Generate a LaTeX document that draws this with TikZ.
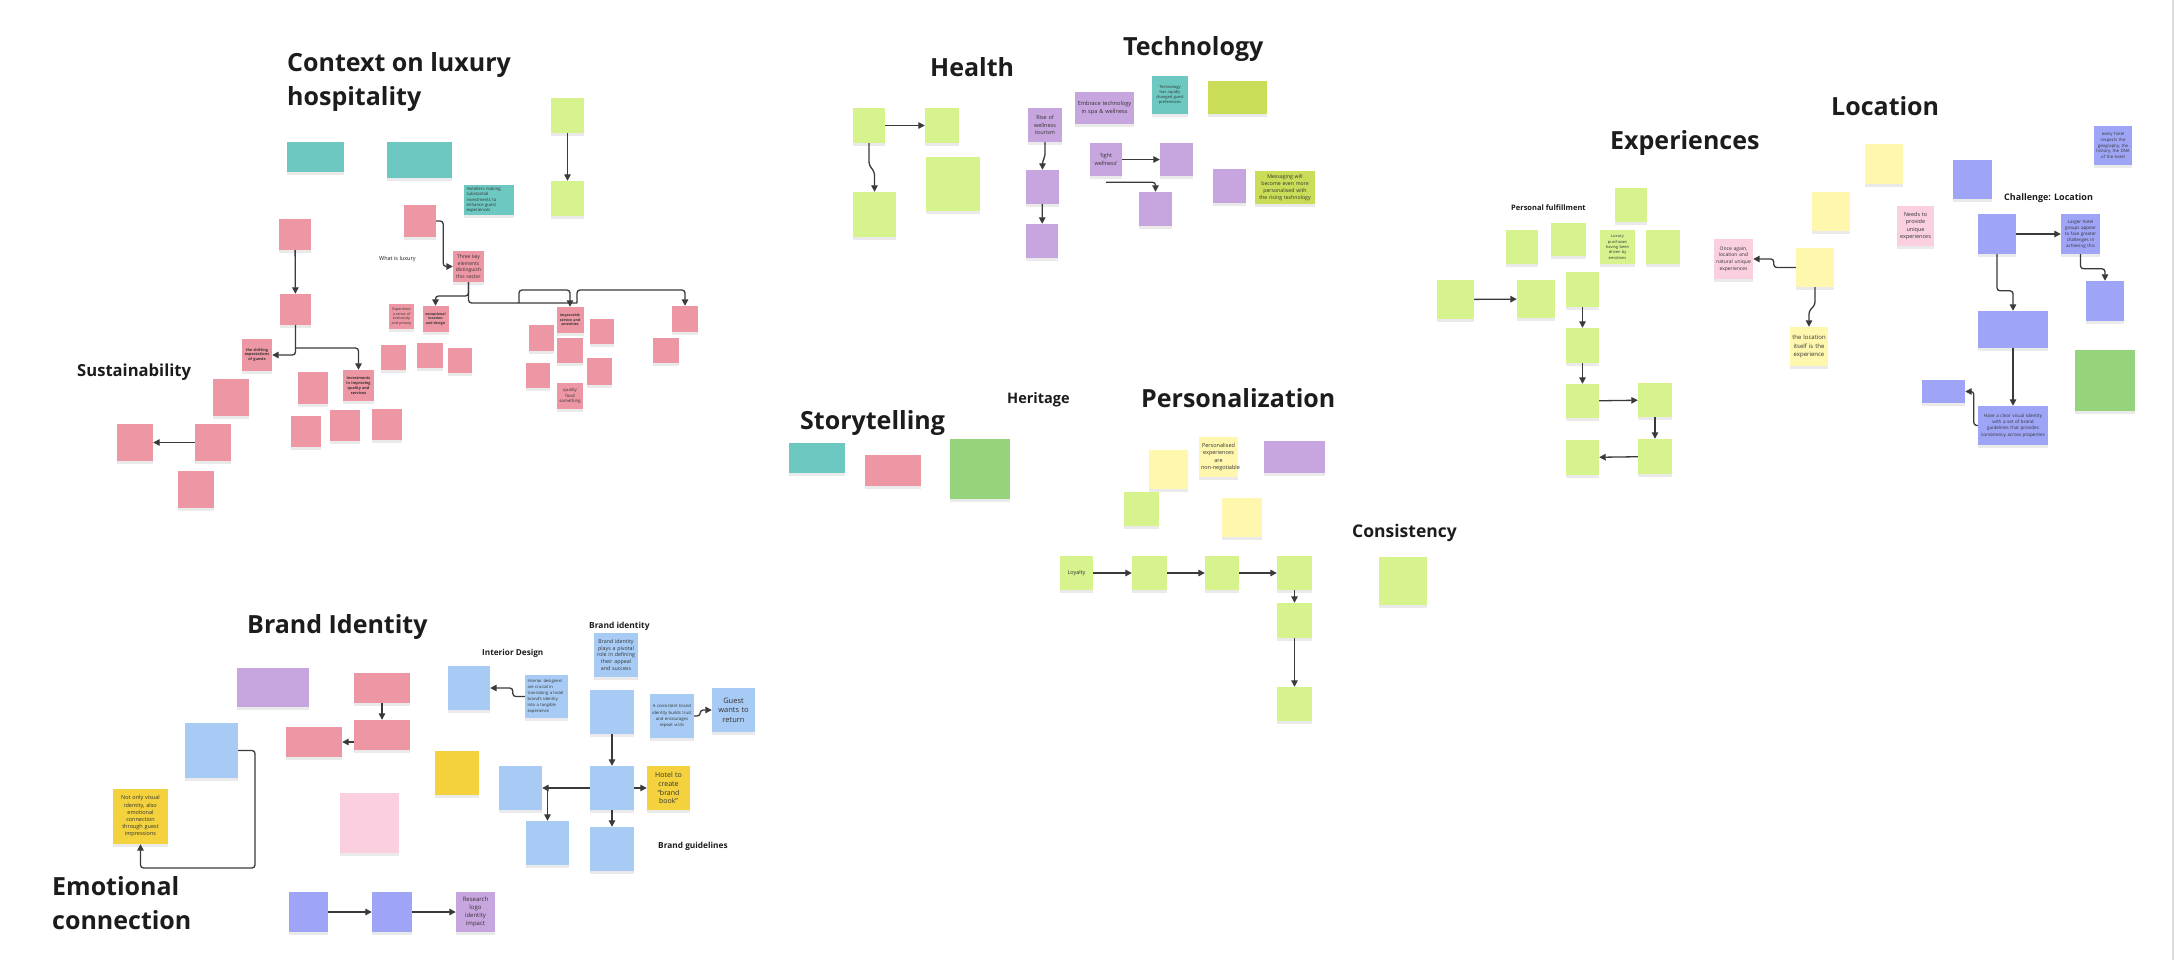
\documentclass[tikz,border=0pt]{standalone}
\usepackage{fontspec}
\setmainfont{Open Sans}
\usetikzlibrary{arrows.meta,positioning,shadows}
\definecolor{pinknote}{HTML}{EC97A3}
\definecolor{tealnote}{HTML}{6CC8C0}
\definecolor{limenote}{HTML}{D7F38E}
\definecolor{olivenote}{HTML}{CBDD58}
\definecolor{violetnote}{HTML}{C7A5DE}
\definecolor{bluenote}{HTML}{A7CBF4}
\definecolor{indigonote}{HTML}{9FA5F6}
\definecolor{creamnote}{HTML}{FFF7AE}
\definecolor{goldnote}{HTML}{F3D23E}
\definecolor{blushnote}{HTML}{FAD0E0}
\definecolor{grassnote}{HTML}{95D47A}
\definecolor{notetext}{HTML}{333333}
\definecolor{titleblack}{HTML}{1C1C1C}
\definecolor{linkgray}{HTML}{3A3A3A}
\definecolor{edgegray}{HTML}{DCDCDC}
\hyphenpenalty=10000
\exhyphenpenalty=10000

\begin{document}
\begin{tikzpicture}[x=1pt, y=-1pt,
  sticky/.style={rectangle, inner sep=2, align=center, text=notetext,
    drop shadow={opacity=0.16, shadow xshift=0.3, shadow yshift=2.8}},
  note/.style 2 args={sticky, minimum width=#1, minimum height=#2},
  fs/.style 2 args={font=\fontsize{#1}{#2}\selectfont},
  fsb/.style 2 args={font=\fontsize{#1}{#2}\selectfont\bfseries},
  heading/.style={font=\fontsize{25}{34}\selectfont\bfseries, text=titleblack,
    inner sep=0, align=left},
  subheading/.style={font=\fontsize{#1}{#1}\selectfont\bfseries, text=titleblack,
    inner sep=0, anchor=base west},
  conn/.style={draw=linkgray, line width=1.3, rounded corners=3,
    -{Triangle[length=6.5,width=6.5]}},
  link/.style={draw=linkgray, line width=1.3, rounded corners=3}
]
  \fill[white] (0,0) rectangle (2176,960);
  \useasboundingbox (0,0) rectangle (2176,960);
  \draw[edgegray, line width=2] (2173,0) -- (2173,960);

  % Context on luxury hospitality
  \node[heading, anchor=north west] (ttlContext) at (287,52) {Context on luxury\\hospitality};
  \node[note={57}{30}, fill=tealnote] (ctxTealA) at (315.5,157) {};
  \node[note={65}{36}, fill=tealnote] (ctxTealB) at (419.5,160) {};
  \node[note={50}{28}, fill=tealnote, fs={4.3}{5.3}, text width=45, align=left] (ctxInvest)
    at (489,200) {Hoteliers making substantial investments to enhance guest experiences};
  \node[note={33}{35}, fill=limenote] (ctxLimeA) at (567.5,115.5) {};
  \node[note={33}{35}, fill=limenote] (ctxLimeB) at (567.5,198.5) {};
  \node[note={32}{31}, fill=pinknote] (luxEvolA) at (295,234.5) {};
  \node[note={31}{31}, fill=pinknote] (luxEvolB) at (295.5,309.5) {};
  \node[note={30}{32}, fill=pinknote, fsb={3.8}{4.8}, text width=26] (luxShift)
    at (257,355) {the shifting expectations of guests};
  \node[note={31}{31}, fill=pinknote, fsb={3.8}{4.8}, text width=27] (luxInvest)
    at (358.5,385.5) {Investments in improving quality and services};
  \node[note={30}{32}, fill=pinknote] (luxNoteA) at (313,388) {};
  \node[note={30}{31}, fill=pinknote] (luxNoteB) at (306,431.5) {};
  \node[note={30}{31}, fill=pinknote] (luxNoteC) at (345,425.5) {};
  \node[note={30}{31}, fill=pinknote] (luxNoteD) at (387,424.5) {};
  \node[note={36}{37}, fill=pinknote] (susA) at (231,397.5) {};
  \node[note={36}{37}, fill=pinknote] (susB) at (213,442.5) {};
  \node[note={36}{37}, fill=pinknote] (susC) at (135,442.5) {};
  \node[note={36}{37}, fill=pinknote] (susD) at (196,489.5) {};
  \node[subheading=16.6] (ttlSustain) at (77,376) {Sustainability};
  \node[note={32}{32}, fill=pinknote] (luxWhat) at (420,221) {};
  \node[font=\fontsize{5.5}{5.5}\selectfont, text=titleblack, inner sep=0, anchor=base west]
    (lblLuxury) at (379,260) {What is luxury};
  \node[note={31}{31}, fill=pinknote, fs={5}{6.5}, text width=27] (luxThree)
    at (468.5,266.5) {Three key elements distinguish this sector};
  \node[note={25}{25}, fill=pinknote, fs={3.6}{4.6}, text width=21] (luxSense)
    at (401.5,316.5) {Experience a sense of exclusivity and privacy};
  \node[note={25}{26}, fill=pinknote, fsb={3.5}{4.6}, text width=22] (luxExcept)
    at (435.5,319) {exceptional location and design};
  \node[note={26}{26}, fill=pinknote, fsb={3.5}{4.6}, text width=23] (luxImpecc)
    at (570,320) {impeccable service and amenities};
  \node[note={26}{26}, fill=pinknote] (luxCommit) at (685,319) {};
  \node[note={25}{25}, fill=pinknote] (luxNoteE) at (393.5,357.5) {};
  \node[note={26}{25}, fill=pinknote] (luxNoteF) at (430,355.5) {};
  \node[note={24}{25}, fill=pinknote] (luxNoteG) at (460,360.5) {};
  \node[note={25}{26}, fill=pinknote] (luxNoteH) at (541.5,338) {};
  \node[note={24}{25}, fill=pinknote] (luxNoteI) at (538,375.5) {};
  \node[note={26}{25}, fill=pinknote] (luxNoteJ) at (570,350.5) {};
  \node[note={26}{26}, fill=pinknote, fs={4.3}{5.6}, text width=22] (luxQuality)
    at (570,396) {quality food something};
  \node[note={24}{25}, fill=pinknote] (luxNoteK) at (602,331.5) {};
  \node[note={25}{27}, fill=pinknote] (luxNoteL) at (599.5,371.5) {};
  \node[note={26}{25}, fill=pinknote] (luxNoteM) at (666,350.5) {};
  \draw[conn] (ctxLimeA) -- (ctxLimeB);
  \draw[conn] (luxEvolA) -- (luxEvolB);
  \draw[conn] (luxEvolB.south) |- (luxShift.east);
  \draw[conn] (295.5,348) -| (luxInvest.north);
  \draw[conn] (susB) -- (susC);
  \draw[conn] (luxWhat.east) -- ++(7,0) |- (luxThree.west);
  \draw[conn] (luxThree.south) -- (468.5,296) -| (luxExcept.north);
  \draw[link] (luxThree.south) |- (577,303);
  \draw[conn] (519,303) |- (570,290) -- (luxImpecc.north);
  \draw[conn] (577,303) |- (685,290) -- (luxCommit.north);

  % Health and Technology
  \node[subheading=25] (ttlHealth) at (930,77) {Health};
  \node[subheading=25] (ttlTech) at (1123,55.4) {Technology};
  \node[note={32}{35}, fill=limenote] (hltA) at (869,125.5) {};
  \node[note={34}{35}, fill=limenote] (hltB) at (942,125.5) {};
  \node[note={43}{45}, fill=limenote] (hltC) at (874.5,214.5) {};
  \node[note={54}{54}, fill=limenote] (hltD) at (953,184) {};
  \node[note={34}{34}, fill=violetnote, fs={5.5}{7.5}, text width=30] (tecRise)
    at (1045,125) {Rise of wellness tourism};
  \node[note={33}{34}, fill=violetnote] (tecRiseA) at (1042.5,187) {};
  \node[note={32}{34}, fill=violetnote] (tecRiseB) at (1042,241) {};
  \node[note={59}{32}, fill=violetnote, fs={5.6}{7.5}, text width=55] (tecSpa)
    at (1104.5,108) {Embrace technology in spa \& wellness};
  \node[note={36}{38}, fill=tealnote, fs={4}{5.2}, text width=32] (tecGuest)
    at (1170,95) {Technology has rapidly changed guest preferences};
  \node[note={59}{33}, fill=olivenote] (tecOlive) at (1237.5,97.5) {};
  \node[note={32}{33}, fill=violetnote, fs={5.5}{7.5}, text width=28] (tecLight)
    at (1106,159.5) {`light wellness'};
  \node[note={33}{33}, fill=violetnote] (tecLightA) at (1176.5,159.5) {};
  \node[note={33}{34}, fill=violetnote] (tecLightB) at (1155.5,209) {};
  \node[note={33}{34}, fill=violetnote] (tecNoteA) at (1229.5,186) {};
  \node[note={60}{33}, fill=olivenote, fs={5.2}{7}, text width=56] (tecMsg)
    at (1285,187.5) {Messaging will become even more personalised with the rising technology};
  \draw[conn] (hltA) -- (hltB);
  \draw[conn] (hltA.south) -- (869,165) -- (874.5,172) -- (hltC.north);
  \draw[conn] (tecRise.south) -- (1045,157) -- (1042.5,161) -- (tecRiseA.north);
  \draw[conn] (tecRiseA) -- (tecRiseB);
  \draw[conn] (tecLight) -- (tecLightA);
  \draw[conn] ([yshift=-6]tecLight.south) -| (tecLightB.north);

  % Storytelling, Heritage, Personalization
  \node[subheading=25] (ttlStory) at (800,429) {Storytelling};
  \node[subheading=14.5] (ttlHeritage) at (1007,403.5) {Heritage};
  \node[subheading=25] (ttlPerson) at (1141,407) {Personalization};
  \node[note={56}{30}, fill=tealnote] (styTeal) at (817,458) {};
  \node[note={56}{31}, fill=pinknote] (styPink) at (893,470.5) {};
  \node[note={60}{60}, fill=grassnote] (styGreen) at (980,469) {};
  \node[note={39}{39}, fill=creamnote] (perCreamA) at (1168.5,469.5) {};
  \node[note={39}{40}, fill=creamnote, fs={5.5}{7.2}, text width=35] (perNonNeg)
    at (1218.5,457) {Personalised experiences are non-negotiable};
  \node[note={61}{32}, fill=violetnote] (perViolet) at (1294.5,457) {};
  \node[note={35}{34}, fill=limenote] (perLime) at (1141.5,509) {};
  \node[note={40}{39}, fill=creamnote] (perCreamB) at (1242,517.5) {};

  % Loyalty and Consistency
  \node[subheading=17.5] (ttlConsist) at (1352,537.5) {Consistency};
  \node[note={33}{34}, fill=limenote, fs={5.5}{7}] (loyStart) at (1076.5,573) {Loyalty};
  \node[note={35}{34}, fill=limenote] (loyB) at (1149.5,573) {};
  \node[note={34}{34}, fill=limenote] (loyC) at (1222,573) {};
  \node[note={35}{34}, fill=limenote] (loyD) at (1294.5,573) {};
  \node[note={35}{35}, fill=limenote] (loyE) at (1294.5,620.5) {};
  \node[note={35}{34}, fill=limenote] (loyF) at (1294.5,704) {};
  \node[note={48}{48}, fill=limenote] (conNote) at (1403,581) {};
  \draw[conn] (loyStart) -- (loyB);
  \draw[conn] (loyB) -- (loyC);
  \draw[conn] (loyC) -- (loyD);
  \draw[conn] (loyD) -- (loyE);
  \draw[conn] (loyE) -- (loyF);

  % Experiences
  \node[subheading=25] (ttlExp) at (1610,150) {Experiences};
  \node[subheading=7.5] (lblFulfil) at (1511,210.5) {Personal fulfillment};
  \node[note={32}{34}, fill=limenote] (expTop) at (1631,205) {};
  \node[note={32}{34}, fill=limenote] (expA) at (1522,247) {};
  \node[note={35}{33}, fill=limenote] (expB) at (1568.5,239.5) {};
  \node[note={35}{34}, fill=limenote, fs={4}{5.4}, text width=31] (expEmotion)
    at (1617.5,247) {Luxury purchases having been driven by emotions};
  \node[note={34}{34}, fill=limenote] (expD) at (1663,247) {};
  \node[note={37}{39}, fill=limenote] (expRowA) at (1455.5,299.5) {};
  \node[note={38}{38}, fill=limenote] (expRowB) at (1536,299) {};
  \node[note={33}{35}, fill=limenote] (expColA) at (1582.5,289.5) {};
  \node[note={33}{35}, fill=limenote] (expColB) at (1582.5,345.5) {};
  \node[note={33}{34}, fill=limenote] (expColC) at (1582.5,401) {};
  \node[note={34}{34}, fill=limenote] (expColD) at (1655,400) {};
  \node[note={34}{35}, fill=limenote] (expColE) at (1655,456.5) {};
  \node[note={33}{35}, fill=limenote] (expColF) at (1582.5,457.5) {};
  \draw[conn] (expRowA) -- (expRowB);
  \draw[conn] (expColA) -- (expColB);
  \draw[conn] (expColB) -- (expColC);
  \draw[conn] (expColC) -- (expColD);
  \draw[conn] (expColD) -- (expColE);
  \draw[conn] (expColE) -- (expColF);
  \node[note={38}{40}, fill=creamnote] (expCreamA) at (1884,164) {};
  \node[note={38}{39}, fill=creamnote] (expCreamB) at (1831,211.5) {};
  \node[note={37}{40}, fill=blushnote, fs={5.5}{7.5}, text width=33] (expUnique)
    at (1915.5,226) {Needs to provide unique experiences};
  \node[note={39}{40}, fill=blushnote, fs={5}{6.6}, text width=35] (expNatural)
    at (1733.5,259) {Once again, location and natural unique experiences};
  \node[note={38}{39}, fill=creamnote] (expCreamC) at (1815,267.5) {};
  \node[note={38}{39}, fill=creamnote, fs={6}{8.4}, text width=34] (expItself)
    at (1809,346.5) {the location itself is the experience};
  \draw[conn] (expCreamC.west) -- ++(-22,0) |- (expNatural.east);
  \draw[conn] (expCreamC.south) -- (1815,305) -- (1809,311) -- (expItself.north);

  % Location
  \node[subheading=25] (ttlLoc) at (1831,116) {Location};
  \node[subheading=9] (lblChallenge) at (2004,200.5) {Challenge: Location};
  \node[note={39}{39}, fill=indigonote] (locA) at (1972.5,179.5) {};
  \node[note={38}{39}, fill=indigonote, fs={4.3}{5.8}, text width=34] (locDNA)
    at (2113,145.5) {every hotel respects the geography, the history, the DNA of the hotel};
  \node[note={38}{40}, fill=indigonote] (locChal) at (1997,234) {};
  \node[note={39}{40}, fill=indigonote, fs={4.5}{6}, text width=35] (locLarger)
    at (2080.5,234) {Larger hotel groups appear to face greater challenges in achieving this};
  \node[note={38}{40}, fill=indigonote] (locSmall) at (2105,301) {};
  \node[note={70}{37}, fill=indigonote] (locNeed) at (2013,329.5) {};
  \node[note={70}{39}, fill=indigonote, fs={4.6}{6.3}, text width=66] (locVisual)
    at (2013,425.5) {Have a clear visual identity with a set of brand guidelines that provides consistency across properties};
  \node[note={43}{23}, fill=indigonote] (locLogo) at (1943.5,391.5) {};
  \node[note={60}{61}, fill=grassnote] (locGreen) at (2105,380.5) {};
  \draw[conn] (locChal) -- (locLarger);
  \draw[conn] (locLarger.south) |- ([yshift=12]locSmall.north) -- (locSmall.north);
  \draw[conn] (locChal.south) |- ([yshift=20]locNeed.north) -- (locNeed.north);
  \draw[conn] (locNeed) -- (locVisual);
  \draw[conn] (locVisual.west) -- ++(-4,0) |- (locLogo.east);

  % Brand Identity and Emotional connection
  \node[subheading=25] (ttlBrand) at (247,633) {Brand Identity};
  \node[heading, anchor=north west] (ttlEmotion) at (52,876) {Emotional\\connection};
  \node[note={72}{39}, fill=violetnote] (brdViolet) at (273,687.5) {};
  \node[note={56}{30}, fill=pinknote] (brdPinkA) at (382,688) {};
  \node[note={56}{30}, fill=pinknote] (brdPinkB) at (382,735) {};
  \node[note={56}{30}, fill=pinknote] (brdPinkC) at (314,742) {};
  \node[note={53}{55}, fill=bluenote] (brdBlue) at (211.5,750.5) {};
  \node[note={55}{55}, fill=goldnote, fs={5.5}{7.2}, text width=50] (brdEmotion)
    at (140.5,816.5) {Not only visual identity, also emotional connection through guest impressions};
  \node[note={59}{60}, fill=blushnote] (brdBlush) at (369.5,823) {};
  \node[note={39}{40}, fill=indigonote] (brdRowA) at (308.5,912) {};
  \node[note={40}{40}, fill=indigonote] (brdRowB) at (392,912) {};
  \node[note={39}{40}, fill=violetnote, fs={6}{8.2}, text width=35] (brdResearch)
    at (475.5,912) {Research logo identity impact};
  \draw[conn] (brdPinkA) -- (brdPinkB);
  \draw[conn] (brdPinkB.west |- brdPinkC.east) -- (brdPinkC.east);
  \draw[conn] (brdBlue.east) -| (255,868) -| (brdEmotion.south);
  \draw[conn] (brdRowA) -- (brdRowB);
  \draw[conn] (brdRowB) -- (brdResearch);

  % Interior design and brand guidelines
  \node[subheading=8.2] (lblInterior) at (482,655) {Interior Design};
  \node[subheading=8.4] (lblBrandId) at (589,628) {Brand identity};
  \node[subheading=8.3] (lblGuide) at (658,848) {Brand guidelines};
  \node[note={42}{44}, fill=bluenote] (intA) at (469,688) {};
  \node[note={43}{43}, fill=bluenote, fs={4.2}{5.9}, text width=38, align=left] (intDesigners)
    at (546.5,696.5) {Interior designers are crucial in translating a hotel brand's identity into a tangible experience};
  \node[note={44}{44}, fill=bluenote, fs={5.3}{6.8}, text width=40] (bidPivotal)
    at (616,655) {Brand identity plays a pivotal role in defining their appeal and success};
  \node[note={44}{44}, fill=bluenote] (bidStand) at (612,712) {};
  \node[note={44}{44}, fill=bluenote, fs={4.3}{6.2}, text width=40] (bidTrust)
    at (672,716) {A consistent brand identity builds trust and encourages repeat visits};
  \node[note={43}{44}, fill=bluenote, fs={7.5}{9.6}, text width=39] (bidReturn)
    at (733.5,710) {Guest wants to return};
  \node[note={44}{44}, fill=goldnote] (bidGold) at (457,773) {};
  \node[note={44}{44}, fill=bluenote] (bglCore) at (612,788) {};
  \node[note={43}{44}, fill=bluenote] (bglLeft) at (520.5,788) {};
  \node[note={43}{44}, fill=goldnote, fs={7}{8.8}, text width=38] (bglBook)
    at (668.5,788) {Hotel to create ``brand book''};
  \node[note={43}{44}, fill=bluenote] (bglMaterial) at (547.5,843) {};
  \node[note={44}{44}, fill=bluenote] (bglTech) at (612,849) {};
  \draw[conn] (intDesigners.west) -- ++(-12,0) |- (intA.east);
  \draw[conn] (bidStand) -- (bglCore);
  \draw[conn] (bidTrust.east) -- ++(6,0) |- (bidReturn.west);
  \draw[conn] (bglCore) -- (bglLeft);
  \draw[conn] (bglMaterial.north |- bglCore.west) -- (bglMaterial.north);
  \draw[conn] (bglCore) -- (bglTech);
  \draw[conn] (bglCore) -- (bglBook);
\end{tikzpicture}
\end{document}
